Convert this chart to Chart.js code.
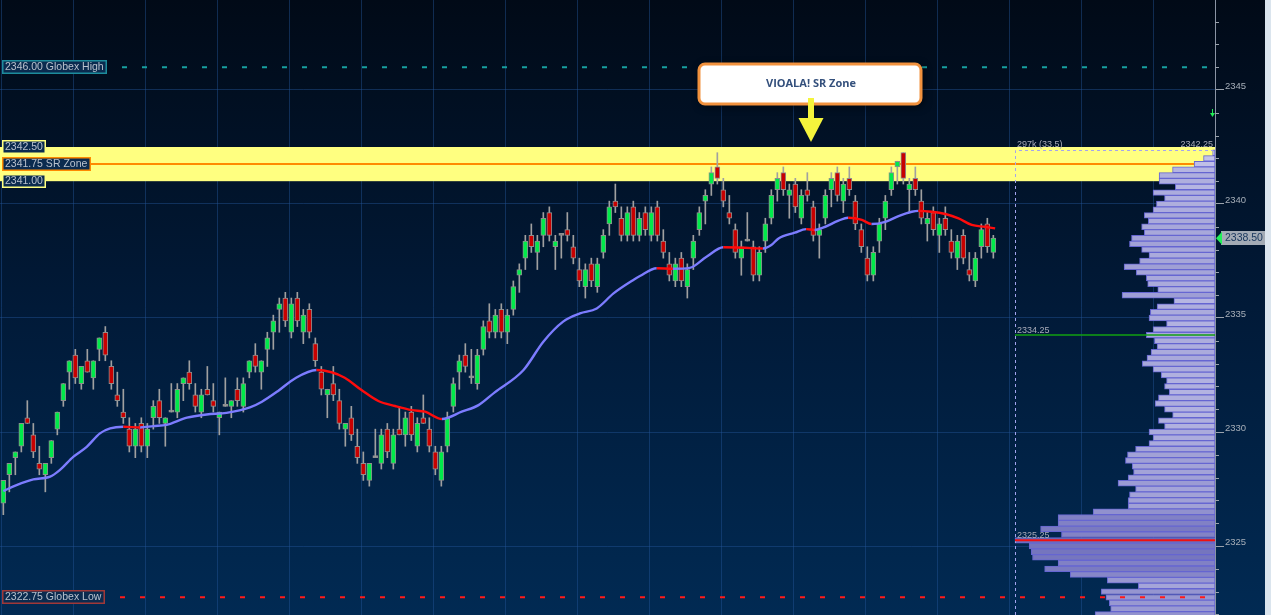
<!DOCTYPE html>
<html>
<head>
<meta charset="utf-8">
<title>ES SR Zone</title>
<script src="https://cdn.jsdelivr.net/npm/chart.js@4.4.1/dist/chart.umd.min.js"></script>
<style>
  html, body { margin: 0; padding: 0; background: #011a36; overflow: hidden; }
  canvas { display: block; }
</style>
</head>
<body>
<canvas id="chart" width="1271" height="615"></canvas>
<script>
// ---- bars (one per candle, left to right) ----
const opens = [
  2326.875, 2328.125, 2328.875, 2329.375, 2330.625, 2329.875, 2328.625, 2328.125, 2328.875, 2330.125,
  2331.375, 2332.625, 2333.375, 2332.125, 2333.125, 2332.375, 2333.625, 2334.375, 2332.875, 2331.625,
  2330.875, 2330.125, 2329.375, 2330.375, 2329.375, 2330.625, 2331.375, 2330.375, 2330.875, 2330.875,
  2332.125, 2332.625, 2331.625, 2330.875, 2331.875, 2331.375, 2330.625, 2331.125, 2331.125, 2331.875,
  2331.125, 2332.625, 2333.375, 2332.625, 2333.625, 2334.375, 2335.375, 2335.875, 2334.375, 2335.875,
  2334.375, 2335.375, 2333.875, 2332.625, 2331.625, 2332.125, 2331.375, 2330.125, 2330.625, 2329.375,
  2328.625, 2327.875, 2328.875, 2328.625, 2330.125, 2328.625, 2330.125, 2329.875, 2330.875, 2329.375,
  2330.625, 2330.125, 2329.125, 2327.875, 2329.375, 2331.125, 2332.625, 2333.375, 2332.375, 2332.125,
  2333.625, 2334.875, 2334.375, 2335.375, 2334.375, 2335.375, 2336.875, 2337.625, 2338.625, 2337.875,
  2338.625, 2339.625, 2338.125, 2338.625, 2338.875, 2338.125, 2337.125, 2336.375, 2337.375, 2336.375,
  2337.875, 2339.125, 2340.125, 2339.375, 2338.625, 2339.875, 2338.625, 2339.625, 2338.625, 2339.875,
  2338.375, 2337.375, 2336.625, 2337.625, 2336.375, 2337.625, 2338.875, 2340.125, 2340.875, 2341.625,
  2340.625, 2339.625, 2338.875, 2337.625, 2338.375, 2338.125, 2336.875, 2338.375, 2339.375, 2340.625,
  2341.375, 2340.375, 2340.875, 2339.375, 2340.625, 2339.875, 2338.625, 2339.375, 2340.625, 2341.375,
  2340.125, 2341.125, 2340.125, 2338.875, 2337.625, 2336.875, 2338.375, 2339.375, 2340.625, 2341.625,
  2342.25, 2340.625, 2341.125, 2340.125, 2339.125, 2339.625, 2338.625, 2339.375, 2338.375, 2337.625,
  2338.625, 2337.125, 2336.625, 2338.125, 2339.125, 2337.875
];
const highs = [
  2327.875, 2328.625, 2329.125, 2330.375, 2331.375, 2330.375, 2329.375, 2328.625, 2329.625, 2330.875,
  2332.125, 2333.125, 2333.625, 2332.875, 2333.625, 2333.125, 2334.125, 2334.625, 2333.125, 2332.625,
  2331.875, 2330.625, 2330.375, 2330.625, 2330.375, 2331.375, 2331.875, 2330.625, 2332.125, 2332.125,
  2332.375, 2333.125, 2332.125, 2331.875, 2332.875, 2332.125, 2330.875, 2332.375, 2331.375, 2332.375,
  2332.375, 2333.125, 2333.875, 2333.125, 2334.375, 2335.125, 2335.875, 2336.125, 2335.875, 2336.125,
  2335.375, 2335.625, 2334.125, 2332.875, 2331.875, 2332.875, 2331.875, 2330.375, 2331.125, 2330.125,
  2329.125, 2328.625, 2330.125, 2330.125, 2330.375, 2330.125, 2331.125, 2330.875, 2331.125, 2330.625,
  2331.625, 2330.625, 2329.375, 2329.375, 2330.875, 2332.375, 2333.375, 2333.875, 2333.625, 2333.625,
  2334.875, 2335.625, 2335.375, 2335.625, 2335.375, 2336.625, 2337.375, 2338.625, 2339.125, 2338.625,
  2339.625, 2339.875, 2338.625, 2338.625, 2339.625, 2338.625, 2337.625, 2337.375, 2337.625, 2337.625,
  2338.875, 2340.125, 2340.875, 2339.875, 2339.875, 2340.125, 2339.625, 2339.875, 2339.875, 2340.125,
  2338.875, 2337.875, 2337.625, 2337.875, 2337.375, 2338.625, 2339.875, 2340.625, 2341.625, 2342.25,
  2341.125, 2340.375, 2339.125, 2338.375, 2339.625, 2338.375, 2338.125, 2339.375, 2340.625, 2341.375,
  2341.625, 2340.875, 2341.125, 2340.625, 2341.375, 2340.125, 2339.125, 2340.625, 2341.375, 2341.625,
  2341.125, 2341.625, 2340.375, 2339.125, 2338.125, 2338.125, 2339.375, 2340.375, 2341.625, 2341.875,
  2342.25, 2341.125, 2341.625, 2340.625, 2339.625, 2339.875, 2339.375, 2339.875, 2338.875, 2338.625,
  2338.875, 2337.875, 2337.875, 2339.125, 2339.375, 2338.625
];
const lows = [
  2326.375, 2327.375, 2328.125, 2329.125, 2330.375, 2328.875, 2328.125, 2327.375, 2328.625, 2329.875,
  2331.125, 2331.875, 2332.125, 2331.875, 2332.625, 2331.875, 2333.125, 2333.125, 2331.875, 2331.125,
  2330.375, 2329.125, 2328.875, 2329.125, 2328.875, 2330.125, 2330.375, 2329.375, 2330.875, 2330.625,
  2331.375, 2331.875, 2330.875, 2330.625, 2331.625, 2330.875, 2329.875, 2331.125, 2330.625, 2331.125,
  2330.875, 2332.375, 2332.625, 2331.875, 2332.875, 2333.625, 2334.375, 2334.625, 2334.125, 2334.625,
  2333.875, 2334.125, 2332.875, 2331.625, 2330.625, 2331.375, 2330.125, 2329.375, 2329.625, 2328.625,
  2327.875, 2327.625, 2328.875, 2328.375, 2328.875, 2328.375, 2329.875, 2329.375, 2329.625, 2329.125,
  2330.375, 2329.125, 2328.125, 2327.625, 2329.125, 2330.875, 2331.875, 2332.625, 2332.125, 2331.875,
  2333.375, 2334.125, 2334.125, 2334.125, 2333.875, 2335.125, 2336.125, 2337.125, 2337.875, 2337.125,
  2338.125, 2338.375, 2337.125, 2337.625, 2338.375, 2337.375, 2336.375, 2335.875, 2336.375, 2336.125,
  2337.625, 2338.625, 2339.625, 2338.375, 2338.375, 2338.375, 2338.375, 2338.625, 2338.375, 2338.375,
  2337.625, 2336.625, 2336.375, 2336.375, 2335.875, 2337.125, 2338.625, 2339.125, 2340.375, 2340.875,
  2339.875, 2339.125, 2337.625, 2336.875, 2338.375, 2336.625, 2336.625, 2337.875, 2339.125, 2340.125,
  2340.375, 2339.375, 2339.625, 2339.125, 2340.125, 2338.375, 2337.625, 2339.125, 2339.875, 2340.125,
  2339.625, 2340.375, 2338.875, 2337.875, 2336.625, 2336.625, 2337.875, 2338.875, 2340.375, 2340.875,
  2340.875, 2339.625, 2340.375, 2339.125, 2338.375, 2338.625, 2337.875, 2338.625, 2337.625, 2337.125,
  2337.375, 2336.625, 2336.375, 2337.625, 2337.875, 2337.625
];
const closes = [
  2327.875, 2328.625, 2329.125, 2330.375, 2330.375, 2329.125, 2328.375, 2328.625, 2329.625, 2330.875,
  2332.125, 2333.125, 2332.375, 2332.875, 2332.625, 2333.125, 2334.125, 2333.375, 2332.125, 2331.375,
  2330.625, 2329.375, 2330.125, 2329.375, 2330.125, 2331.125, 2330.625, 2330.625, 2330.875, 2331.875,
  2332.375, 2332.125, 2331.125, 2331.625, 2331.625, 2331.125, 2330.875, 2331.125, 2331.375, 2331.375,
  2332.125, 2333.125, 2332.875, 2333.125, 2334.125, 2334.875, 2335.625, 2334.875, 2335.625, 2334.875,
  2335.125, 2334.375, 2333.125, 2331.875, 2331.875, 2331.625, 2330.375, 2330.375, 2329.875, 2328.875,
  2328.125, 2328.625, 2328.875, 2329.875, 2329.125, 2329.875, 2329.875, 2330.625, 2329.875, 2330.375,
  2330.375, 2329.375, 2328.375, 2329.125, 2330.625, 2332.125, 2333.125, 2332.875, 2332.375, 2333.375,
  2334.625, 2334.375, 2335.125, 2334.375, 2335.125, 2336.375, 2337.125, 2338.375, 2338.125, 2338.375,
  2339.375, 2338.625, 2338.375, 2338.625, 2338.625, 2337.625, 2336.625, 2337.125, 2336.625, 2337.375,
  2338.625, 2339.875, 2339.875, 2338.625, 2339.625, 2338.625, 2339.375, 2338.875, 2339.625, 2338.625,
  2337.875, 2336.875, 2337.375, 2336.625, 2337.125, 2338.375, 2339.625, 2340.375, 2341.375, 2341.125,
  2340.125, 2339.375, 2337.875, 2338.125, 2338.375, 2336.875, 2337.875, 2339.125, 2340.375, 2341.125,
  2340.625, 2340.625, 2339.875, 2340.375, 2340.375, 2338.625, 2338.875, 2340.375, 2341.125, 2340.375,
  2340.875, 2340.625, 2339.125, 2338.125, 2336.875, 2337.875, 2339.125, 2340.125, 2341.375, 2341.875,
  2341.125, 2340.875, 2340.625, 2339.375, 2339.375, 2338.875, 2339.125, 2338.875, 2337.875, 2338.375,
  2337.625, 2336.875, 2337.625, 2338.875, 2338.125, 2338.50
];

// ---- moving average line, read at bar positions ----
const maIndex = [0, 2.2, 5, 7.8, 9.4, 11.7, 13.9, 16.1, 17.8, 20, 22.8, 25, 27.2, 30.6, 33.9, 37.2, 41.1,
  43.1, 45.8, 48.6, 52.2, 54.7, 56.9, 59.7, 62.5, 65.3, 68.1, 70.3, 73.1, 76.4, 79.2, 81.9, 86.7, 90,
  93.3, 96.1, 98.9, 101.7, 105, 106.1, 108.9, 111.6, 114.4, 117.2, 120, 123.6, 126.6, 128, 129.2, 131.9,
  133.8, 135.2, 136.6, 139.2, 140.8, 143.1, 144.7, 147, 149.2, 151.4, 152.5, 154.7, 157, 159.2, 161.4,
  163.6, 165.3];
const maValues = [2327.41, 2327.67, 2327.92, 2328.04, 2328.33, 2328.92, 2329.35, 2329.94, 2330.16,
  2330.23, 2330.20, 2330.26, 2330.31, 2330.63, 2330.77, 2330.84, 2331.08, 2331.33, 2331.80, 2332.35,
  2332.72, 2332.62, 2332.38, 2331.84, 2331.36, 2331.14, 2330.96, 2330.89, 2330.57, 2330.89, 2331.18,
  2331.74, 2332.72, 2333.96, 2334.84, 2335.20, 2335.42, 2336.08, 2336.67, 2336.84, 2337.18, 2337.16,
  2337.20, 2337.69, 2338.10, 2338.08, 2338.05, 2338.20, 2338.49, 2338.74, 2338.90, 2338.86, 2338.96,
  2339.27, 2339.40, 2339.30, 2339.12, 2339.22, 2339.47, 2339.66, 2339.70, 2339.66, 2339.56, 2339.37,
  2339.08, 2339.00, 2338.93];

// ---- volume profile (k contracts per price level) ----
const profilePrices = [
  2342.25, 2342, 2341.75, 2341.5, 2341.25, 2341, 2340.75, 2340.5, 2340.25, 2340,
  2339.75, 2339.5, 2339.25, 2339, 2338.75, 2338.5, 2338.25, 2338, 2337.75, 2337.5,
  2337.25, 2337, 2336.75, 2336.5, 2336.25, 2336, 2335.75, 2335.5, 2335.25, 2335,
  2334.75, 2334.5, 2334.25, 2334, 2333.75, 2333.5, 2333.25, 2333, 2332.75, 2332.5,
  2332.25, 2332, 2331.75, 2331.5, 2331.25, 2331, 2330.75, 2330.5, 2330.25, 2330,
  2329.75, 2329.5, 2329.25, 2329, 2328.75, 2328.5, 2328.25, 2328, 2327.75, 2327.5,
  2327.25, 2327, 2326.75, 2326.5, 2326.25, 2326, 2325.75, 2325.5, 2325.25, 2325,
  2324.75, 2324.5, 2324.25, 2324, 2323.75, 2323.5, 2323.25, 2323, 2322.75, 2322.5,
  2322.25, 2322
];
const profileVolumes = [
  3.5, 17, 31, 63, 83, 83, 59, 92, 75, 87,
  92, 105, 99, 109, 105, 124, 127, 109, 98, 112,
  135, 117, 102, 100, 85, 138, 61, 86, 96, 98,
  72, 92, 102, 90, 86, 95, 101, 108, 92, 80,
  72, 75, 68, 84, 89, 75, 63, 84, 75, 98,
  92, 98, 118, 130, 133, 123, 121, 129, 144, 118,
  127, 129, 129, 181, 233, 233, 259, 228, 297, 276,
  273, 271, 233, 253, 215, 160, 114, 169, 162, 157,
  155, 178
];

// ---- levels & labels ----
const globexHigh = 2346.00;
const globexLow = 2322.75;
const srZoneHigh = 2342.50;
const srZoneMid = 2341.75;
const srZoneLow = 2341.00;
const sessionHigh = 2342.25;
const markLevel = 2334.25;
const pocLevel = 2325.25;
const lastPrice = 2338.50;
const alertLevel = 2344.00;
const pocText = "297k (33.5)";
const calloutText = "VIOALA! SR Zone";
const calloutBar = 134.6;
const yLabelStep = 5;

// colours
const UP = "#00ea4a", DOWN = "#c80000", DOJI = "#9c9c9c", EDGE = "#8e8e8e";
const MA_UP = "#7c7cff", MA_DOWN = "#ff0c0c";
const GRID = "rgba(35,85,150,0.45)";
const LABEL_FONT = '10.5px "Liberation Sans", Arial, sans-serif';
const SMALL_FONT = '9px "Liberation Sans", Arial, sans-serif';

const pocVolume = Math.max(...profileVolumes);
const PLOT_W = 1215, PROFILE_W = 200;

function barColor(i) {
  if (closes[i] > opens[i]) return UP;
  if (closes[i] < opens[i]) return DOWN;
  return DOJI;
}
function profileShade(v) {
  const t = v / pocVolume;
  const rg = Math.round(200 - 90 * t), b = Math.round(236 - 50 * t);
  return `rgb(${rg},${rg},${b})`;
}
function tagBox(ctx, text, x, yc, border) {
  ctx.font = LABEL_FONT;
  const w = Math.ceil(ctx.measureText(text).width) + 6;
  const top = Math.round(yc) - 7;
  ctx.fillStyle = "#0b2b4f";
  ctx.fillRect(x, top, w, 14);
  ctx.strokeStyle = border;
  ctx.lineWidth = 1.5;
  ctx.strokeRect(x + 0.75, top + 0.75, w - 1.5, 12.5);
  ctx.fillStyle = "#b9c2ce";
  ctx.textAlign = "left";
  ctx.textBaseline = "middle";
  ctx.fillText(text, x + 3, top + 7.5);
  return x + w;
}
function dashedLine(ctx, x0, x1, yy, color) {
  ctx.save();
  ctx.strokeStyle = color;
  ctx.lineWidth = 2;
  ctx.setLineDash([5, 15]);
  ctx.beginPath();
  ctx.moveTo(x0, yy);
  ctx.lineTo(x1, yy);
  ctx.stroke();
  ctx.restore();
}

const overlay = {
  id: "overlay",
  beforeDraw(chart) {
    const { ctx, width, height } = chart;
    const g = ctx.createLinearGradient(0, 0, 0, height);
    g.addColorStop(0, "#010a17");
    g.addColorStop(0.5, "#011a38");
    g.addColorStop(1, "#012a53");
    ctx.save();
    ctx.fillStyle = g;
    ctx.fillRect(0, 0, width, height);
    ctx.fillStyle = "#dbe5ee";
    ctx.fillRect(width - 6, 0, 6, height);
    ctx.restore();
  },
  beforeDatasetsDraw(chart) {
    const { ctx, chartArea: a, scales: { x, y } } = chart;
    ctx.save();
    // vertical grid, every 12 bars
    ctx.strokeStyle = GRID;
    ctx.lineWidth = 1;
    for (let v = -0.4; x.getPixelForValue(v) < a.right; v += 12) {
      const px = Math.round(x.getPixelForValue(v)) + 0.5;
      ctx.beginPath();
      ctx.moveTo(px, a.top);
      ctx.lineTo(px, a.bottom);
      ctx.stroke();
    }
    // SR zone
    const zt = y.getPixelForValue(srZoneHigh), zb = y.getPixelForValue(srZoneLow);
    ctx.fillStyle = "#ffff80";
    ctx.fillRect(a.left, zt, a.right - a.left, zb - zt);
    const ym = y.getPixelForValue(srZoneMid);
    ctx.strokeStyle = "#ff8a00";
    ctx.lineWidth = 2;
    ctx.beginPath();
    ctx.moveTo(89, ym);
    ctx.lineTo(a.right, ym);
    ctx.stroke();
    ctx.restore();
  },
  afterDatasetsDraw(chart) {
    const { ctx, chartArea: a, scales: { y, xv } } = chart;
    ctx.save();
    // globex lines
    const hx = tagBox(ctx, globexHigh.toFixed(2) + " Globex High", 2, y.getPixelForValue(globexHigh), "#1d8c9c");
    dashedLine(ctx, hx + 15, a.right, y.getPixelForValue(globexHigh), "#17a0a0");
    const lx = tagBox(ctx, globexLow.toFixed(2) + " Globex Low", 2, y.getPixelForValue(globexLow), "#a03838");
    dashedLine(ctx, lx + 15, a.right, y.getPixelForValue(globexLow), "#ff1a1a");
    // SR zone tags
    tagBox(ctx, srZoneHigh.toFixed(2), 2, y.getPixelForValue(srZoneHigh), "#ffff80");
    tagBox(ctx, srZoneMid.toFixed(2) + " SR Zone", 2, y.getPixelForValue(srZoneMid), "#ff8a00");
    tagBox(ctx, srZoneLow.toFixed(2), 2, y.getPixelForValue(srZoneLow), "#ffff80");

    // profile frame & levels
    const px0 = xv.getPixelForValue(pocVolume);
    const ptop = y.getPixelForValue(sessionHigh + 0.125);
    ctx.strokeStyle = "#a4a4ee";
    ctx.lineWidth = 1;
    ctx.setLineDash([3, 3]);
    ctx.beginPath();
    ctx.moveTo(Math.round(px0) + 0.5, a.bottom);
    ctx.lineTo(Math.round(px0) + 0.5, Math.round(ptop) + 0.5);
    ctx.lineTo(a.right - 2, Math.round(ptop) + 0.5);
    ctx.stroke();
    ctx.setLineDash([]);
    const gy = y.getPixelForValue(markLevel);
    ctx.strokeStyle = "#12a012";
    ctx.lineWidth = 1.5;
    ctx.beginPath(); ctx.moveTo(px0, gy); ctx.lineTo(a.right, gy); ctx.stroke();
    const ry = y.getPixelForValue(pocLevel);
    ctx.strokeStyle = "#f01010";
    ctx.lineWidth = 2;
    ctx.beginPath(); ctx.moveTo(px0, ry); ctx.lineTo(a.right, ry); ctx.stroke();

    ctx.font = SMALL_FONT;
    ctx.fillStyle = "#a9acb9";
    ctx.textBaseline = "alphabetic";
    ctx.textAlign = "left";
    ctx.fillText(pocText, px0 + 2, ptop - 3);
    ctx.fillText(markLevel.toFixed(2), px0 + 2, gy - 2);
    ctx.fillText(pocLevel.toFixed(2), px0 + 2, ry - 2);
    ctx.textAlign = "right";
    ctx.fillText(sessionHigh.toFixed(2), a.right - 2, ptop - 3);

    // small alert arrow at the right edge
    const ay = Math.round(y.getPixelForValue(alertLevel));
    ctx.strokeStyle = "#22ee55";
    ctx.fillStyle = "#22ee55";
    ctx.lineWidth = 1;
    ctx.beginPath(); ctx.moveTo(a.right - 2.5, ay - 4); ctx.lineTo(a.right - 2.5, ay + 1); ctx.stroke();
    ctx.beginPath(); ctx.moveTo(a.right - 5, ay); ctx.lineTo(a.right, ay); ctx.lineTo(a.right - 2.5, ay + 4); ctx.closePath(); ctx.fill();
    ctx.restore();
  },
  afterDraw(chart) {
    const { ctx, chartArea: a, scales: { x, y } } = chart;
    ctx.save();
    // minor axis ticks
    ctx.strokeStyle = "#9aa2ac";
    ctx.lineWidth = 1;
    for (let v = Math.ceil(y.min); v <= y.max; v++) {
      if (v % yLabelStep === 0) continue;
      const py = Math.round(y.getPixelForValue(v)) + 0.5;
      ctx.beginPath(); ctx.moveTo(a.right, py); ctx.lineTo(a.right + 4, py); ctx.stroke();
    }
    // last price marker
    const lp = y.getPixelForValue(lastPrice);
    ctx.fillStyle = "#a3abb5";
    ctx.fillRect(a.right + 6, Math.round(lp) - 7, 44, 14);
    ctx.fillStyle = "#22ef5a";
    ctx.beginPath();
    ctx.moveTo(a.right + 1, lp);
    ctx.lineTo(a.right + 7, lp - 6.5);
    ctx.lineTo(a.right + 7, lp + 6.5);
    ctx.closePath();
    ctx.fill();
    ctx.font = LABEL_FONT;
    ctx.fillStyle = "#16355c";
    ctx.textAlign = "left";
    ctx.textBaseline = "middle";
    ctx.fillText(lastPrice.toFixed(2), a.right + 10, Math.round(lp) + 0.5);

    // callout
    const cx = Math.round(x.getPixelForValue(calloutBar));
    const tipY = Math.round(y.getPixelForValue(srZoneHigh)) - 5;
    const bw = 222, bh = 40, bx = cx - 112, by = tipY - 78;
    ctx.save();
    ctx.shadowColor = "rgba(0,0,0,0.7)";
    ctx.shadowBlur = 8;
    ctx.shadowOffsetX = 2;
    ctx.shadowOffsetY = 2;
    ctx.fillStyle = "#ffffff";
    ctx.beginPath();
    ctx.roundRect(bx, by, bw, bh, 6);
    ctx.fill();
    ctx.restore();
    ctx.strokeStyle = "#f2923e";
    ctx.lineWidth = 3;
    ctx.beginPath();
    ctx.roundRect(bx, by, bw, bh, 6);
    ctx.stroke();
    ctx.font = 'bold 11px "Open Sans", "Liberation Sans", sans-serif';
    ctx.fillStyle = "#34507c";
    ctx.textAlign = "center";
    ctx.textBaseline = "middle";
    ctx.fillText(calloutText, cx, by + bh / 2);
    ctx.fillStyle = "#f4f43c";
    ctx.fillRect(cx - 3, tipY - 44, 6, 22);
    ctx.beginPath();
    ctx.moveTo(cx - 12.5, tipY - 24);
    ctx.lineTo(cx + 12.5, tipY - 24);
    ctx.lineTo(cx, tipY);
    ctx.closePath();
    ctx.fill();
    ctx.restore();
  }
};

const bars = opens.map((_, i) => i);

new Chart(document.getElementById("chart"), {
  type: "bar",
  data: {
    datasets: [
      {
        type: "line",
        order: 0,
        xAxisID: "x",
        yAxisID: "y",
        data: maIndex.map((v, k) => ({ x: v, y: maValues[k] })),
        borderColor: MA_UP,
        borderWidth: 2.4,
        pointRadius: 0,
        cubicInterpolationMode: "monotone",
        segment: {
          borderColor: c => (c.p1.parsed.y < c.p0.parsed.y ? MA_DOWN : MA_UP)
        }
      },
      {
        order: 1,
        xAxisID: "x",
        yAxisID: "y",
        grouped: false,
        data: bars.map(i => ({ x: i, y: [opens[i], closes[i]] })),
        backgroundColor: bars.map(barColor),
        borderColor: EDGE,
        borderWidth: 1,
        borderSkipped: false,
        barThickness: 5,
        minBarLength: 2
      },
      {
        order: 2,
        xAxisID: "x",
        yAxisID: "y",
        grouped: false,
        data: bars.map(i => ({ x: i, y: [lows[i], highs[i]] })),
        backgroundColor: "#a0a0a0",
        borderWidth: 0,
        barThickness: 1
      },
      {
        order: 3,
        indexAxis: "y",
        xAxisID: "xv",
        yAxisID: "y",
        grouped: false,
        data: profilePrices.map((p, k) => ({ x: profileVolumes[k], y: p })),
        backgroundColor: ctx => profileShade(ctx.raw ? ctx.raw.x : 0),
        borderColor: "#6666d2",
        borderWidth: 1,
        borderSkipped: false,
        barThickness: 5.7
      }
    ]
  },
  options: {
    responsive: false,
    animation: false,
    devicePixelRatio: 1,
    layout: { padding: 0 },
    events: [],
    plugins: { legend: { display: false }, tooltip: { enabled: false } },
    scales: {
      x: { type: "linear", axis: "x", min: -0.555, max: 201.945, offset: false, grid: { offset: false }, display: false },
      xv: { type: "linear", axis: "x", reverse: true, min: 0, max: pocVolume * PLOT_W / PROFILE_W, offset: false, grid: { offset: false }, display: false },
      y: {
        type: "linear",
        axis: "y",
        position: "right",
        min: 2321.974,
        max: 2348.947,
        offset: false,
        afterFit: s => { s.width = 56; s.paddingTop = 0; s.paddingBottom = 0; },
        border: { display: true, color: "#8a94a4", width: 1 },
        grid: {
          offset: false,
          color: c => (c.tick && c.tick.value % yLabelStep === 0 ? GRID : "rgba(0,0,0,0)"),
          tickColor: c => (c.tick && c.tick.value % yLabelStep === 0 ? "#9aa2ac" : "rgba(0,0,0,0)"),
          tickLength: 9,
          drawTicks: true
        },
        ticks: {
          stepSize: 1,
          includeBounds: false,
          autoSkip: false,
          padding: 1,
          labelOffset: -4,
          color: "#a6aeb8",
          font: { family: '"Liberation Sans", Arial, sans-serif', size: 9.5 },
          callback: v => (v % yLabelStep === 0 ? String(v) : "")
        }
      }
    }
  },
  plugins: [overlay]
});
</script>
</body>
</html>
